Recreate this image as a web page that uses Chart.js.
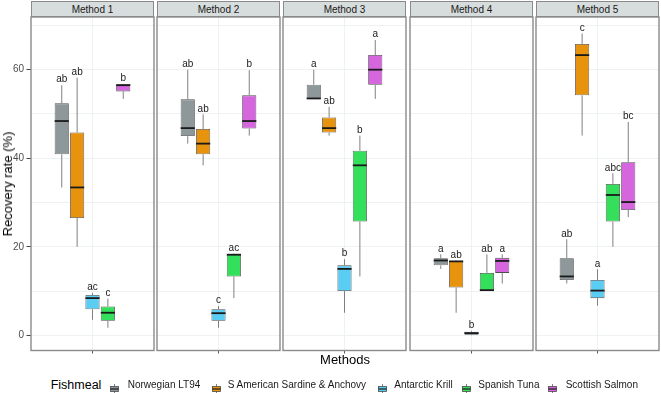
<!DOCTYPE html>
<html><head><meta charset="utf-8">
<script src="https://cdn.jsdelivr.net/npm/chart.js@4/dist/chart.umd.min.js"></script>
<style>
html,body{margin:0;padding:0;background:#fff;width:661px;height:393px;overflow:hidden;font-family:"Liberation Sans",Arial,sans-serif;color:#1a1a1a;}
#wrap{position:relative;width:661px;height:393px;}
canvas{position:absolute;}
.strip{position:absolute;top:1px;height:16px;box-sizing:border-box;background:#d7dddd;border:1px solid #8a8a8a;font-size:10px;line-height:15px;text-align:center;color:#1a1a1a;}
.txt{position:absolute;white-space:nowrap;}
</style></head>
<body><div id="wrap"></div>
<script>
// ---- data ----
const methods = ['Method 1','Method 2','Method 3','Method 4','Method 5'];
const fishmeals = ['Norwegian LT94','S American Sardine & Anchovy','Antarctic Krill','Spanish Tuna','Scottish Salmon'];
// each row = one method, columns in fishmeal order
const whiskerLow = [
  [33.4, 20.0, 3.5, 1.7, 53.4],
  [43.3, 38.4, 1.7, 8.4, 45.1],
  [53.4, 45.1, 5.1, 13.3, 53.4],
  [15.0, 5.1, 0.0, 10.1, 11.7],
  [11.7, 45.1, 6.7, 20.0, 26.7]
];
const quartile1 = [
  [40.9, 26.5, 5.9, 3.3, 55.1],
  [45.0, 40.9, 3.3, 13.3, 46.7],
  [53.4, 45.8, 10.0, 25.7, 56.6],
  [15.8, 10.8, 0.1, 10.1, 14.1],
  [12.5, 54.2, 8.4, 25.7, 28.3]
];
const medians = [
  [48.4, 33.4, 8.4, 5.1, 56.5],
  [46.8, 43.3, 5.0, 18.2, 48.4],
  [53.5, 46.8, 15.0, 38.4, 60.0],
  [16.9, 16.7, 0.5, 10.2, 16.8],
  [13.3, 63.3, 10.1, 31.7, 30.1]
];
const quartile3 = [
  [52.4, 45.8, 9.1, 6.5, 56.7],
  [53.3, 46.6, 5.9, 18.4, 54.2],
  [56.6, 49.2, 15.8, 41.7, 63.3],
  [17.4, 16.8, 0.8, 14.1, 17.5],
  [17.4, 65.8, 12.5, 34.2, 39.1]
];
const whiskerHigh = [
  [56.5, 58.2, 9.6, 8.3, 56.8],
  [60.0, 49.9, 6.6, 18.5, 59.9],
  [60.0, 51.6, 17.2, 45.1, 66.7],
  [18.3, 16.9, 1.0, 18.3, 18.3],
  [21.7, 68.2, 14.9, 36.6, 48.2]
];
const letters = [
  ['ab','ab','ac','c','b'],
  ['ab','ab','c','ac','b'],
  ['a','ab','b','b','a'],
  ['a','ab','b','ab','a'],
  ['ab','c','a','abc','bc']
];
const yTickStep = 10;
const yLabelStep = 20;

// ---- styles / layout ----
const fishColors = ['#8e979a','#e8930e','#5ccdf2','#34df5b','#d666de'];
const panelLeft = [31, 157, 283, 410, 536];
const panelW = 123;
const yMin = -3.43, yMax = 71.9;
const gridColor = '#eaeff0';
const FONT = '"Liberation Sans", Arial, sans-serif';
const wrap = document.getElementById('wrap');

const boxPlugin = {
  id: 'boxExtras',
  afterDatasetsDraw(chart, args, opts) {
    const mi = opts.method;
    const ys = chart.scales.y;
    const ctx = chart.ctx;
    ctx.save();
    fishmeals.forEach((f, fi) => {
      const bar = chart.getDatasetMeta(fi).data[0];
      const cx = bar.x, hw = bar.width / 2;
      const pLo = ys.getPixelForValue(whiskerLow[mi][fi]);
      const pQ1 = ys.getPixelForValue(quartile1[mi][fi]);
      const pMed = ys.getPixelForValue(medians[mi][fi]);
      const pQ3 = ys.getPixelForValue(quartile3[mi][fi]);
      const pHi = ys.getPixelForValue(whiskerHigh[mi][fi]);
      ctx.strokeStyle = '#808080';
      ctx.lineWidth = 1;
      ctx.beginPath();
      ctx.moveTo(cx, pQ3); ctx.lineTo(cx, pHi);
      ctx.moveTo(cx, pQ1); ctx.lineTo(cx, pLo);
      ctx.stroke();
      ctx.strokeStyle = '#1a1a1a';
      ctx.lineWidth = 1.8;
      ctx.beginPath();
      ctx.moveTo(cx - hw, pMed); ctx.lineTo(cx + hw, pMed);
      ctx.stroke();
      ctx.fillStyle = '#1a1a1a';
      ctx.font = '10px ' + FONT;
      ctx.textAlign = 'center';
      ctx.textBaseline = 'alphabetic';
      ctx.fillText(letters[mi][fi], cx, Math.min(pHi, pQ3) - 2.7);
    });
    ctx.restore();
  },
  afterDraw(chart) {
    const a = chart.chartArea, ctx = chart.ctx;
    ctx.save();
    ctx.strokeStyle = '#8a8a8a';
    ctx.lineWidth = 1.4;
    ctx.strokeRect(a.left, a.top, a.right - a.left, a.bottom - a.top);
    ctx.restore();
  }
};

methods.forEach((m, mi) => {
  const first = mi === 0;
  const canvas = document.createElement('canvas');
  const left = first ? 0 : panelLeft[mi] - 3;
  const width = first ? panelLeft[0] + panelW + 3 : panelW + 6;
  const height = 352;
  canvas.width = width; canvas.height = height;
  canvas.style.left = left + 'px'; canvas.style.top = '7px';
  canvas.style.width = width + 'px'; canvas.style.height = height + 'px';
  wrap.appendChild(canvas);

  const strip = document.createElement('div');
  strip.className = 'strip';
  strip.style.left = panelLeft[mi] + 'px';
  strip.style.width = panelW + 'px';
  strip.textContent = m;
  wrap.appendChild(strip);

  new Chart(canvas, {
    type: 'bar',
    data: {
      labels: ['Methods'],
      datasets: fishmeals.map((f, fi) => ({
        label: f,
        data: [[quartile1[mi][fi], quartile3[mi][fi]]],
        backgroundColor: fishColors[fi],
        borderColor: '#4d4d4d',
        borderWidth: 0.8,
        borderSkipped: false,
        categoryPercentage: 0.625,
        barPercentage: 0.92
      }))
    },
    options: {
      responsive: false, animation: false, events: [], devicePixelRatio: 1,
      layout: { padding: { left: first ? 0 : 3, right: 3, top: 10, bottom: 0 } },
      plugins: { legend: { display: false }, tooltip: { enabled: false }, boxExtras: { method: mi } },
      scales: {
        x: {
          type: 'category', offset: true,
          grid: { offset: false, color: gridColor, lineWidth: 0.8, drawTicks: true, tickLength: 3, tickColor: '#555', tickWidth: 1 },
          border: { display: false },
          ticks: { display: false },
          afterFit: s => { s.height = 8.5; }
        },
        y: {
          min: yMin, max: yMax,
          grid: {
            color: gridColor, lineWidth: 0.8,
            drawTicks: first, tickLength: 4.5, tickWidth: 1,
            tickColor: c => (c.tick && Math.abs(c.tick.value % yLabelStep) < 1e-6) ? '#444' : 'rgba(0,0,0,0)'
          },
          border: { display: false },
          ticks: {
            display: first, stepSize: yTickStep, includeBounds: false, padding: 2.5,
            color: '#4d4d4d', font: { family: FONT, size: 10 },
            callback: v => (Math.abs(v % yLabelStep) < 1e-6 ? String(v) : '')
          },
          afterFit: s => { s.width = first ? 31 : 0; }
        }
      }
    },
    plugins: [boxPlugin]
  });
});

// axis titles
const yt = document.createElement('div');
yt.className = 'txt';
yt.textContent = 'Recovery rate (%)';
yt.style.cssText += 'font-size:13px;line-height:14px;left:8px;top:184px;transform:translate(-50%,-50%) rotate(-90deg);color:#000;';
wrap.appendChild(yt);
const xt = document.createElement('div');
xt.className = 'txt';
xt.textContent = 'Methods';
xt.style.cssText += 'font-size:13px;line-height:14px;left:345px;top:360px;transform:translate(-50%,-50%);color:#000;';
wrap.appendChild(xt);

// legend
const lg = document.createElement('div');
lg.className = 'txt';
lg.textContent = 'Fishmeal';
lg.style.cssText += 'font-size:12.5px;line-height:14px;left:50.7px;top:378px;color:#000;';
wrap.appendChild(lg);
const keyLefts = [110, 211.7, 377.7, 461.7, 548.3];
const labLefts = [127.7, 227.7, 394.3, 478.3, 565.7];
fishmeals.forEach((f, fi) => {
  const k = document.createElement('div');
  k.className = 'txt';
  k.style.cssText += 'left:' + keyLefts[fi] + 'px;top:380px;width:9px;height:10px;';
  k.innerHTML = '<svg width="9" height="10" viewBox="0 0 9 10"><line x1="4.5" y1="0" x2="4.5" y2="10" stroke="#808080" stroke-width="1"/><rect x="0.5" y="2.5" width="8" height="5" fill="' + fishColors[fi] + '" stroke="#4d4d4d" stroke-width="0.8"/><line x1="0.5" y1="5" x2="8.5" y2="5" stroke="#1a1a1a" stroke-width="1.2"/></svg>';
  wrap.appendChild(k);
  const t = document.createElement('div');
  t.className = 'txt';
  t.textContent = f;
  t.style.cssText += 'font-size:10px;line-height:12px;left:' + labLefts[fi] + 'px;top:379px;color:#1a1a1a;';
  wrap.appendChild(t);
});
</script>
</body></html>
